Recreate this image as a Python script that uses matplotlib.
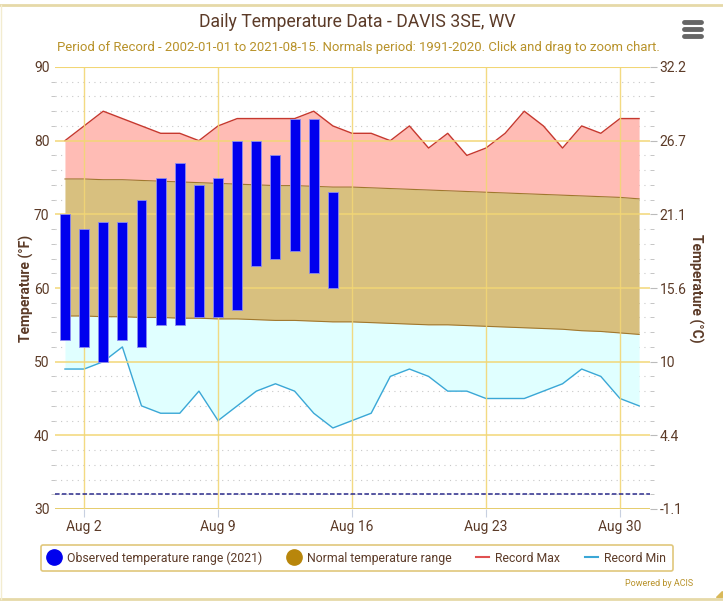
import numpy as np
import matplotlib
matplotlib.use("Agg")
import matplotlib.pyplot as plt
from matplotlib.lines import Line2D
from matplotlib.patches import Polygon

plt.rcParams['font.family'] = ['Roboto', 'DejaVu Sans']

# data: August, day of month
days = list(range(1, 32))
rec_max = [80, 82, 84, 83, 82, 81, 81, 80, 82, 83, 83, 83, 83, 84, 82, 81,
           81, 80, 82, 79, 81, 78, 79, 81, 84, 82, 79, 82, 81, 83, 83]
rec_min = [49, 49, 50, 52, 44, 43, 43, 46, 42, 44, 46, 47, 46, 43, 41, 42,
           43, 48, 49, 48, 46, 46, 45, 45, 45, 46, 47, 49, 48, 45, 44]
norm_max = [74.8, 74.8, 74.7, 74.7, 74.6, 74.5, 74.4, 74.3, 74.2, 74.1, 74.0,
            73.9, 73.9, 73.8, 73.7, 73.7, 73.6, 73.5, 73.4, 73.3, 73.2, 73.1,
            73.0, 72.9, 72.8, 72.7, 72.6, 72.5, 72.4, 72.3, 72.1]
norm_min = [56.2, 56.2, 56.1, 56.1, 56.0, 56.0, 55.9, 55.9, 55.8, 55.8, 55.7,
            55.6, 55.6, 55.5, 55.4, 55.4, 55.3, 55.2, 55.1, 55.0, 55.0, 54.9,
            54.8, 54.7, 54.6, 54.5, 54.4, 54.2, 54.1, 53.9, 53.7]
obs_days = list(range(1, 16))
obs_max = [70, 68, 69, 69, 72, 75, 77, 74, 75, 80, 80, 78, 83, 83, 73]
obs_min = [53, 52, 50, 53, 52, 55, 55, 56, 56, 57, 63, 64, 65, 62, 60]
tick_days = [2, 9, 16, 23, 30]
tick_labels = ['Aug 2', 'Aug 9', 'Aug 16', 'Aug 23', 'Aug 30']
f_ticks = [30, 40, 50, 60, 70, 80, 90]
c_labels = ['-1.1', '4.4', '10', '15.6', '21.1', '26.7', '32.2']
freezing = 32

brown = '#5c3b28'
gold = '#b8922a'
grid_gold = '#f2d675'

fig = plt.figure(figsize=(7.23, 6.02), dpi=100)
W, H = 723, 602
ax = fig.add_axes([55 / W, 1 - 509 / H, 595 / W, 442 / H])

ax.set_xlim(0.48, 31.57)
ax.set_ylim(30, 90)

# fills
ax.fill_between(days, norm_max, rec_max, color='#ffbcb5', lw=0, zorder=1)
ax.fill_between(days, norm_min, norm_max, color='#d8c07f', lw=0, zorder=1)
ax.fill_between(days, rec_min, norm_min, color='#e0ffff', lw=0, zorder=1)
ax.plot(days, norm_max, color='#a0782e', lw=0.8, zorder=2)
ax.plot(days, norm_min, color='#a0782e', lw=0.8, zorder=2)
ax.plot(days, rec_max, color='#c6382e', lw=1.0, zorder=3)
ax.plot(days, rec_min, color='#3ba7d6', lw=1.0, zorder=3)

# grid
for y in range(32, 90, 2):
    if y % 10:
        ax.axhline(y, color='#c8c8c8', lw=0.8, ls=(0, (1, 4)), zorder=0.5)
for y in f_ticks[1:-1]:
    ax.axhline(y, color=grid_gold, lw=1.2, zorder=4, alpha=0.9)
ax.axhline(90, color=grid_gold, lw=1.5, zorder=4)
ax.axhline(30, color='#e3c75e', lw=2.0, zorder=4)
for d in tick_days:
    ax.axvline(d, color=grid_gold, lw=1.0, zorder=4, alpha=0.9)

ax.bar(obs_days, [hi - lo for hi, lo in zip(obs_max, obs_min)], bottom=obs_min,
       width=0.52, color='#0000ee', edgecolor='#8c8cf0', lw=0.6, zorder=5)

ax.axhline(freezing, color='#2a2a8a', lw=1.1, ls=(0, (3, 1.5)), zorder=5)

for s in ax.spines.values():
    s.set_visible(False)

ax.set_xticks(tick_days)
ax.set_xticklabels(tick_labels)
ax.tick_params(axis='x', length=6, color='#c8d0e0', colors=brown, labelsize=10, pad=2)
ax.set_yticks(f_ticks)
ax.set_yticks(range(32, 90, 2), minor=True)
ax.tick_params(axis='y', which='major', length=0, colors=brown, labelsize=10, pad=4)
ax.tick_params(axis='y', which='minor', length=3, color='#bbbbbb')
ax.set_ylabel('Temperature (°F)', color=brown, fontsize=10, fontweight='bold', labelpad=0)

ax2 = ax.twinx()
ax2.set_ylim(30, 90)
ax2.set_yticks(f_ticks)
ax2.set_yticklabels(c_labels)
ax2.set_yticks(range(32, 90, 2), minor=True)
ax2.tick_params(axis='y', which='major', length=5, color='#bbbbbb', colors=brown, labelsize=10, pad=2)
ax2.tick_params(axis='y', which='minor', length=3, color='#bbbbbb')
for s in ax2.spines.values():
    s.set_visible(False)
ax2.set_ylabel('Temperature (°C)', color=brown, fontsize=10, fontweight='bold',
               rotation=270, labelpad=12)

fig.text(357 / W, 1 - 22 / H, 'Daily Temperature Data - DAVIS 3SE, WV',
         ha='center', va='center', fontsize=12.7, color=brown)
fig.text(358 / W, 1 - 47 / H,
         'Period of Record - 2002-01-01 to 2021-08-15. Normals period: 1991-2020. Click and drag to zoom chart.',
         ha='center', va='center', fontsize=9.45, color=gold)

# legend
handles = [
    Line2D([], [], ls='none', marker='o', ms=11, mfc='#0000ee', mec='#0000ee'),
    Line2D([], [], ls='none', marker='o', ms=11, mfc='#b8860b', mec='#b8860b'),
    Line2D([], [], color='#e05050', lw=1.5),
    Line2D([], [], color='#3ba7d6', lw=1.5),
]
labels = ['Observed temperature range (2021)', 'Normal temperature range',
          'Record Max', 'Record Min']
leg = fig.legend(handles, labels, ncol=4, loc='center',
                 bbox_to_anchor=(357 / W, 1 - 558 / H), fontsize=8.8,
                 frameon=True, handlelength=1.1, handletextpad=0.5,
                 columnspacing=2.0, borderpad=0.55, fancybox=True)
leg.get_frame().set_edgecolor('#d9b95a')
leg.get_frame().set_linewidth(1.2)
for t in leg.get_texts():
    t.set_color(brown)

fig.text(693 / W, 1 - 583 / H, 'Powered by ACIS', ha='right', va='center',
         fontsize=6.5, color=gold)

# menu icon
for yy in (22, 29, 36):
    fig.add_artist(Line2D([684 / W, 701 / W], [1 - yy / H] * 2, color='#666666',
                          lw=3.5, solid_capstyle='round'))

# outer border
fig.add_artist(Line2D([0, 1], [1 - 5 / H] * 2, color='#e6d9a8', lw=2))
fig.add_artist(Line2D([0, 1], [1 - 599 / H] * 2, color='#e6d9a8', lw=2))
fig.add_artist(Line2D([1 / W] * 2, [1 - 5 / H, 1 - 599 / H], color='#f3ecd0', lw=1))
fig.add_artist(Polygon([[716 / W, 1 - 597 / H], [722 / W, 1 - 597 / H],
                        [722 / W, 1 - 591 / H]], closed=True, color='#d9b95a'))

fig.savefig('out.png', dpi=100)
